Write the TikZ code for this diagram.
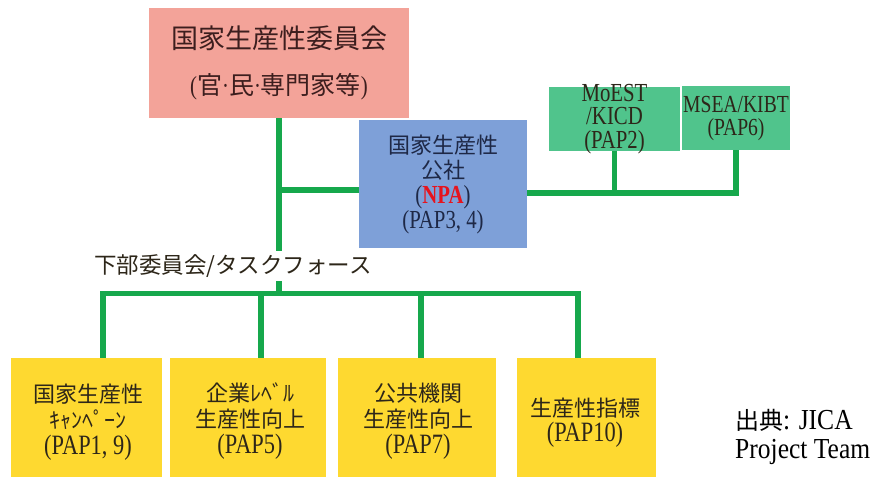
\documentclass[tikz,border=0pt]{standalone}
\usepackage{fontspec}
\setmainfont{Liberation Serif}
\newfontfamily\jp{Noto Sans CJK JP}
\newfontfamily\lat{Liberation Serif}[FakeStretch=0.8]
\newfontfamily\latf{Liberation Serif}[FakeStretch=0.88]
\newcommand\ltx[2]{{\lat\fontsize{#1}{#1}\selectfont #2}}
\AtBeginDocument{\lineskiplimit=-100pt}
\definecolor{redbox}{RGB}{243,163,153}
\definecolor{bluebox}{RGB}{126,160,216}
\definecolor{greenbox}{RGB}{80,196,140}
\definecolor{yellowbox}{RGB}{254,217,48}
\definecolor{lineg}{RGB}{22,168,76}
\definecolor{redtxt}{RGB}{60,30,30}
\definecolor{bluetxt}{RGB}{30,40,70}
\definecolor{darktxt}{RGB}{45,38,25}
\definecolor{npared}{RGB}{230,20,30}
\begin{document}
\begin{tikzpicture}[x=1pt,y=-1pt,
  box/.style={rectangle, inner sep=0pt, draw=none},
  gline/.style={line width=5.5pt, draw=lineg, line join=miter},
  txt/.style={align=center, inner sep=0pt}]
\useasboundingbox (0,0) rectangle (874,477);
% boxes
\node[box, fill=redbox, minimum width=260pt, minimum height=110pt] (ncp) at (279,63) {};
\node[box, fill=bluebox, minimum width=168pt, minimum height=128pt] (npa) at (443,184) {};
\node[box, fill=greenbox, minimum width=131pt, minimum height=64pt] (moe) at (614.5,118.5) {};
\node[box, fill=greenbox, minimum width=108pt, minimum height=64pt] (msea) at (736,118) {};
\node[box, fill=yellowbox, minimum width=151pt, minimum height=119pt] (y1) at (86.5,417.5) {};
\node[box, fill=yellowbox, minimum width=156pt, minimum height=119pt] (y2) at (248,417.5) {};
\node[box, fill=yellowbox, minimum width=158pt, minimum height=119pt] (y3) at (417,417.5) {};
\node[box, fill=yellowbox, minimum width=139pt, minimum height=119pt] (y4) at (586,417.5) {};
% connector coordinates
\coordinate (b0) at (279,293.5);
\coordinate (j1) at (279,190);
\coordinate (r2) at (736,193);
\coordinate (d1) at (103,293.5);
\coordinate (d2) at (261,293.5);
\coordinate (d3) at (421,293.5);
\coordinate (d4) at (578,293.5);
% connectors
\draw[gline] (ncp.south) -- (b0);
\draw[gline] (j1) -- (j1 -| npa.west);
\draw[gline] (npa.east |- r2) -- (r2) -- (msea.south);
\draw[gline] (moe.south) -- (moe.south |- r2);
\draw[gline] (d1 |- y1.north) -- (d1) -- (d4) -- (d4 |- y4.north);
\draw[gline] (d2) -- (d2 |- y2.north);
\draw[gline] (d3) -- (d3 |- y3.north);
% texts
\node[txt, text=redtxt, font=\jp\fontsize{27}{46}\selectfont] (ncpt) at (279,63)
  {国家生産性委員会\\{\fontsize{25}{25}\selectfont\ltx{26}{(}官\ltx{26}{·}民\ltx{26}{·}専門家等\ltx{26}{)}}};
\node[txt, text=bluetxt, font=\jp\fontsize{22}{25}\selectfont] (npat) at (443,184.5)
  {国家生産性\\公社\\\ltx{26}{(\textcolor{npared}{\textbf{NPA}})}\\\ltx{26}{(PAP3, 4)}};
\node[txt, text=darktxt, font=\lat\fontsize{26}{23.5}\selectfont] (moet) at (614.5,119)
  {MoEST\\/KICD\\(PAP2)};
\node[txt, text=darktxt, font=\lat\fontsize{24.5}{23}\selectfont] (mseat) at (736,118.5)
  {MSEA/KIBT\\(PAP6)};
\node[txt, text=darktxt, font=\jp\fontsize{22}{26}\selectfont] (y1t) at (88,422)
  {国家生産性\\{\fontsize{22}{22}\selectfont ｷｬﾝﾍﾟｰﾝ}\\\ltx{28}{(PAP1, 9)}};
\node[txt, text=darktxt, font=\jp\fontsize{22}{26}\selectfont] (y2t) at (250,421)
  {企業ﾚﾍﾞﾙ\\生産性向上\\\ltx{28}{(PAP5)}};
\node[txt, text=darktxt, font=\jp\fontsize{22}{26}\selectfont] (y3t) at (418,421)
  {公共機関\\生産性向上\\\ltx{28}{(PAP7)}};
\node[txt, text=darktxt, font=\jp\fontsize{22}{25}\selectfont] (y4t) at (585,422.5)
  {生産性指標\\\ltx{28}{(PAP10)}};
\node[fill=white, inner sep=4pt, text=darktxt, font=\jp\fontsize{22.5}{22.5}\selectfont] (sub) at (233,266)
  {下部委員会/タスクフォース};
\node[align=left, inner sep=0pt, anchor=west, text=black, font=\latf\fontsize{29}{29}\selectfont] (src) at (735,437)
  {{\jp\fontsize{24}{29}\selectfont 出典}: JICA\\Project Team};
\end{tikzpicture}
\end{document}
